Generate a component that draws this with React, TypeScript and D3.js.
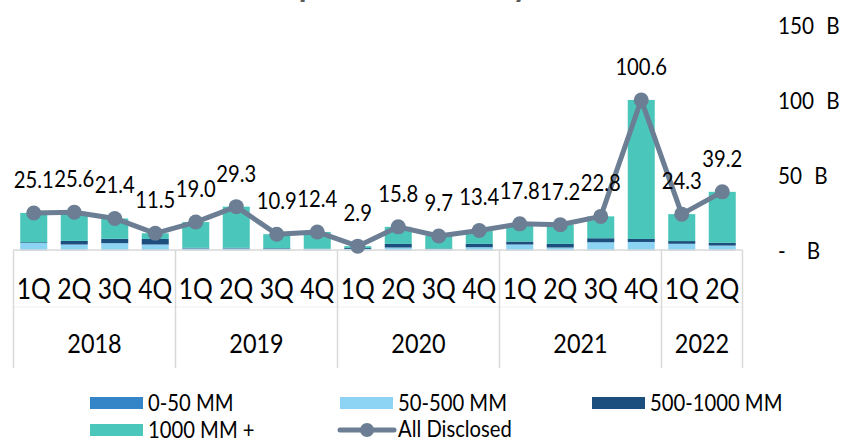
import React from "react";
import * as d3 from "d3";

const years = ["2018", "2019", "2020", "2021", "2022"];
const quartersPerYear = [4, 4, 4, 4, 2];
const quarterNames = ["1Q", "2Q", "3Q", "4Q"];

const allDisclosed = [25.1, 25.6, 21.4, 11.5, 19.0, 29.3, 10.9, 12.4, 2.9, 15.8, 9.7, 13.4, 17.8, 17.2, 22.8, 100.6, 24.3, 39.2];
const s0to50 = [0.2, 0.2, 0.2, 0.2, 0.1, 0.1, 0.1, 0.1, 0.2, 0.2, 0.1, 0.2, 0.2, 0.2, 0.2, 0.2, 0.2, 0.2];
const s50to500 = [4.8, 3.8, 4.7, 3.8, 1.3, 1.3, 1.0, 1.0, 0.8, 1.8, 0.9, 2.0, 3.8, 1.8, 5.3, 5.5, 4.3, 3.1];
const s500to1000 = [0.5, 2.4, 2.9, 3.7, 0.4, 0.4, 0.4, 0.2, 0.6, 2.4, 0.3, 2.2, 2.0, 2.4, 2.7, 2.0, 1.8, 1.8];
const s1000plus = [19.6, 19.2, 13.6, 3.8, 17.2, 27.5, 9.4, 11.1, 1.3, 11.4, 8.4, 9.0, 11.8, 12.8, 14.6, 92.9, 18.0, 34.1];

const yTicks = [0, 50, 100, 150];
const yTickNumbers = ["-", "50", "100", "150"];
const yTickUnit = "B";

const seriesKeys = ["s0to50", "s50to500", "s500to1000", "s1000plus"];
const seriesNames = ["0-50 MM", "50-500 MM", "500-1000 MM", "1000 MM +"];
const seriesColors = ["#3485c7", "#8dd3f4", "#1c4e7e", "#4bc6ba"];
const lineColor = "#6b7e93";
const FONT = "Lato, 'Liberation Sans', sans-serif";

const categories: { id: string; q: string; year: string }[] = [];
years.forEach((yr, yi) => {
  for (let i = 0; i < quartersPerYear[yi]; i++) {
    categories.push({ id: `${yr}-${quarterNames[i]}`, q: quarterNames[i], year: yr });
  }
});

const rows = categories.map((c, i) => ({
  id: c.id,
  s0to50: s0to50[i],
  s50to500: s50to500[i],
  s500to1000: s500to1000[i],
  s1000plus: s1000plus[i],
}));

function T({ x, y, sx = 0.9, size, anchor = "middle", fill = "#000", weight = "normal", children }: any) {
  return (
    <text
      transform={`translate(${x},${y}) scale(${sx},1)`}
      fontSize={size}
      textAnchor={anchor}
      fill={fill}
      fontWeight={weight}
      fontFamily={FONT}
    >
      {children}
    </text>
  );
}

export default function App() {
  const W = 859, H = 438;
  const x = d3.scaleBand<string>().domain(categories.map((c) => c.id)).range([13.5, 742.5]).paddingInner(0.333).paddingOuter(0.1665);
  const y = d3.scaleLinear().domain([0, 150]).range([250.5, 26]);
  const stack = d3.stack<any>().keys(seriesKeys)(rows);
  const step = x.step();
  const cx = (id: string) => (x(id) as number) + x.bandwidth() / 2;

  const line = d3.line<number>().x((_, i) => cx(categories[i].id)).y((d) => y(d));

  const bounds: number[] = [13.5];
  let acc = 0;
  quartersPerYear.forEach((n) => {
    acc += n;
    bounds.push(13.5 + acc * step);
  });

  return (
    <svg width={W} height={H} style={{ position: "absolute", left: 0, top: 0, background: "#fff" }}>
      <rect width={W} height={H} fill="#fff" />
      <T x={463} y={-3} size={31.5} weight="bold" fill="#595959" sx={1}>Capital Invested by Deal Size</T>

      {stack.map((s, si) => (
        <g key={si} fill={seriesColors[si]}>
          {s.map((d: any, i: number) => (
            <rect key={i} x={x(categories[i].id)} width={x.bandwidth()} y={y(d[1])} height={Math.max(0, y(d[0]) - y(d[1]))} />
          ))}
        </g>
      ))}

      {/* category axis */}
      <line x1={13.5} x2={742.5} y1={250} y2={250} stroke="#d9d9d9" strokeWidth={1.5} />
      <line x1={13.5} x2={742.5} y1={307} y2={307} stroke="#f0f0f0" strokeWidth={1} />
      {bounds.map((b, i) => (
        <line key={i} x1={b} x2={b} y1={250} y2={368} stroke="#d9d9d9" strokeWidth={1.5} />
      ))}
      {categories.map((c) => (
        <T key={c.id} x={cx(c.id)} y={299} size={29} sx={0.85}>{c.q}</T>
      ))}
      {years.map((yr, i) => (
        <T key={yr} x={(bounds[i] + bounds[i + 1]) / 2} y={353} size={26} sx={0.9}>{yr}</T>
      ))}

      {/* y axis right */}
      {yTicks.map((t, i) => (
        <T key={t} x={778} y={y(t) + 8} size={23.5} sx={0.88} anchor="start">
          {yTickNumbers[i]}
          <tspan dx={yTickNumbers[i] === "-" ? 24 : 14}>{yTickUnit}</tspan>
        </T>
      ))}

      {/* line */}
      <path d={line(allDisclosed) as string} fill="none" stroke={lineColor} strokeWidth={5} strokeLinejoin="round" />
      {allDisclosed.map((v, i) => (
        <circle key={i} cx={cx(categories[i].id)} cy={y(v)} r={7.5} fill={lineColor} />
      ))}
      {allDisclosed.map((v, i) => (
        <T key={i} x={cx(categories[i].id)} y={y(v) - 25} size={22.5} sx={0.9}>{v.toFixed(1)}</T>
      ))}

      {/* legend */}
      {[
        { x: 90, y: 403, i: 0 },
        { x: 340, y: 403, i: 1 },
        { x: 592, y: 403, i: 2 },
        { x: 90, y: 430, i: 3 },
      ].map((l) => (
        <g key={l.i}>
          <rect x={l.x} y={l.y - 6} width={53} height={12} fill={seriesColors[l.i]} />
          <T x={l.x + 58} y={l.y + 8} size={23} sx={0.88} anchor="start">{seriesNames[l.i]}</T>
        </g>
      ))}
      <line x1={340} x2={394} y1={430} y2={430} stroke={lineColor} strokeWidth={5} strokeLinecap="round" />
      <circle cx={367} cy={430} r={7} fill={lineColor} />
      <T x={398} y={437} size={23} sx={0.88} anchor="start">All Disclosed</T>
    </svg>
  );
}
